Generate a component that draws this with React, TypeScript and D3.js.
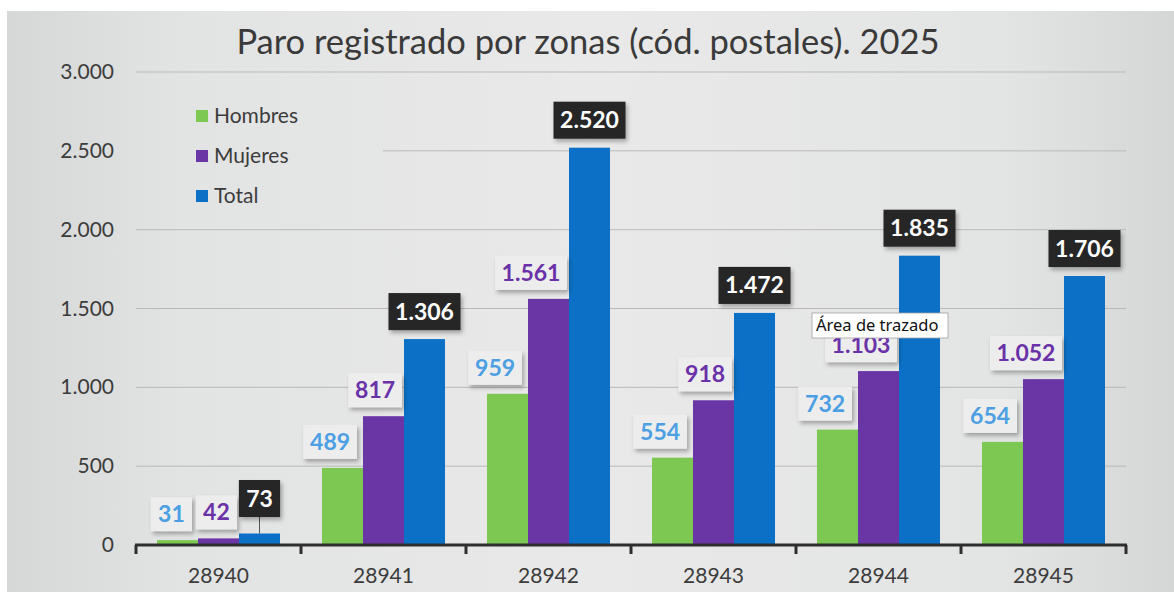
import React from "react";
import * as d3 from "d3";

const categories = ["28940", "28941", "28942", "28943", "28944", "28945"];
const seriesNames = ["Hombres", "Mujeres", "Total"];
const hombres = [31, 489, 959, 554, 732, 654];
const mujeres = [42, 817, 1561, 918, 1103, 1052];
const total = [73, 1306, 2520, 1472, 1835, 1706];
const yTicks = [0, 500, 1000, 1500, 2000, 2500, 3000];
const title = "Paro registrado por zonas (cód. postales). 2025";

const W = 1174;
const H = 592;
const colors: Record<string, string> = { Hombres: "#7cc853", Mujeres: "#6a36a6", Total: "#0b70c6" };
const labelText: Record<string, string> = { Hombres: "#4b9fe2", Mujeres: "#6a31a8", Total: "#ffffff" };
const fmt = (v: number) => d3.format(",")(v).replace(/,/g, ".");
const FONT = "Lato, 'Open Sans', sans-serif";

export default function App() {
  const x0 = d3.scaleBand<string>().domain(categories).range([136, 1126]).paddingInner(0).paddingOuter(0);
  const x1 = d3.scaleBand<string>().domain(seriesNames).range([0, x0.bandwidth()]).paddingInner(0).paddingOuter(0.512);
  const y = d3.scaleLinear().domain([0, 3000]).range([545, 72]);
  const values: Record<string, number[]> = { Hombres: hombres, Mujeres: mujeres, Total: total };

  const textW = (s: string) => s.length * 12.6 - (s.includes(".") ? 7 : 0);

  return (
    <svg width={W} height={H} style={{ position: "fixed", left: 0, top: 0, display: "block" }} fontFamily={FONT}>
      <defs>
        <linearGradient id="bg" gradientUnits="userSpaceOnUse" x1="7" x2="1174" y1="0" y2="0">
          <stop offset="0" stopColor="#d6d7d7" />
          <stop offset="0.15" stopColor="#e2e3e3" />
          <stop offset="0.5" stopColor="#e9e9e9" />
          <stop offset="0.85" stopColor="#e3e4e4" />
          <stop offset="1" stopColor="#d5d6d6" />
        </linearGradient>
        <filter id="sh" x="-20%" y="-20%" width="150%" height="160%">
          <feDropShadow dx="2" dy="3" stdDeviation="2" floodColor="#000" floodOpacity="0.3" />
        </filter>
      </defs>
      <rect x={0} y={0} width={W} height={H} fill="#ffffff" />
      <rect x={7} y={11} width={W - 7} height={H - 11} fill="url(#bg)" />

      {/* title */}
      <text x={588} y={54} textAnchor="middle" fontSize={34.5} fill="#3a3a3a">{title}</text>

      {/* gridlines */}
      {yTicks.filter((t) => t > 0).map((t) => (
        <line key={t} x1={136} x2={1126} y1={y(t)} y2={y(t)} stroke="#b9b9b9" strokeWidth={1} />
      ))}

      {/* legend background covering gridlines */}
      <rect x={136} y={88} width={247} height={127} fill="url(#bg)" />
      {seriesNames.map((s, i) => (
        <g key={s} transform={`translate(196, ${116 + i * 40})`}>
          <rect x={0} y={-6} width={12} height={12} fill={colors[s]} />
          <text x={18} y={7} fontSize={21} fill="#3c3c3c">{s}</text>
        </g>
      ))}

      {/* y tick labels */}
      {yTicks.map((t) => (
        <text key={t} x={114} y={y(t) + 7} textAnchor="end" fontSize={21} fill="#3c3c3c">{fmt(t)}</text>
      ))}

      {/* bars */}
      {categories.map((c, i) => (
        <g key={c} transform={`translate(${x0(c)},0)`}>
          {seriesNames.map((s) => (
            <rect key={s} x={x1(s)} y={y(values[s][i])} width={x1.bandwidth()} height={y(0) - y(values[s][i])} fill={colors[s]} />
          ))}
        </g>
      ))}

      {/* axis */}
      <line x1={135} x2={1127} y1={y(0)} y2={y(0)} stroke="#2e2e2e" strokeWidth={3} />
      {[...categories.map((c) => x0(c) as number), 1126].map((bx, i) => (
        <line key={i} x1={bx} x2={bx} y1={y(0)} y2={y(0) + 9} stroke="#2e2e2e" strokeWidth={3} />
      ))}
      {categories.map((c) => (
        <text key={c} x={(x0(c) as number) + x0.bandwidth() / 2} y={583} textAnchor="middle" fontSize={21} fill="#3c3c3c">{c}</text>
      ))}

      {/* data labels */}
      {categories.map((c, i) =>
        seriesNames.map((s) => {
          const v = values[s][i];
          const str = fmt(v);
          const bx = (x0(c) as number) + (x1(s) as number);
          const bw = x1.bandwidth();
          const top = y(v);
          const boxW = textW(str) + 16;
          const boxH = s === "Total" ? 37 : 34;
          const bottom = s === "Total" ? Math.min(top - 9, y(0) - 28) : top - 9;
          let left: number;
          if (s === "Total") left = bx + bw / 2 - boxW / 2;
          else if (s === "Mujeres") left = bx + bw - 2 - boxW;
          else left = bx + bw - 6 - boxW;
          const dark = s === "Total";
          return (
            <g key={c + s}>
              {dark && bottom < top - 10 && (
                <line x1={bx + bw / 2} x2={bx + bw / 2} y1={bottom} y2={top} stroke="#555" strokeWidth={1} />
              )}
              <rect x={left} y={bottom - boxH} width={boxW} height={boxH} fill={dark ? "#262626" : "#ededed"} filter="url(#sh)" />
              <text x={left + boxW / 2} y={bottom - boxH / 2 + 8} textAnchor="middle" fontSize={23} fontWeight={700} fill={labelText[s]}>{str}</text>
            </g>
          );
        })
      )}

      {/* tooltip */}
      <rect x={812} y={313} width={136} height={25} fill="#ffffff" stroke="#a0a0a0" strokeWidth={0.8} />
      <text x={816} y={331} fontSize={16.5} fill="#111" fontFamily="'Noto Sans', 'Open Sans', sans-serif">Área de trazado</text>
    </svg>
  );
}
